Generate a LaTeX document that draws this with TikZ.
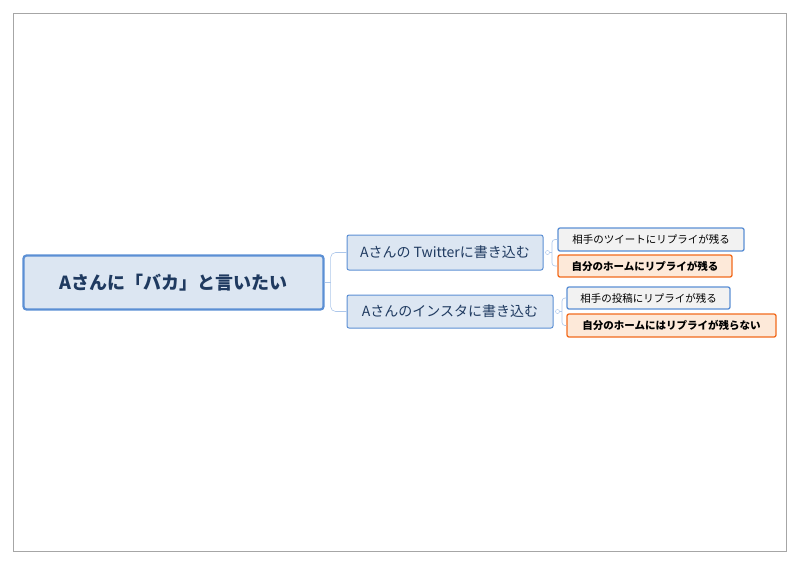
\documentclass[tikz,border=0pt]{standalone}
\usepackage{fontspec}
\newfontfamily\jp{Noto Sans CJK JP}
\begin{document}
\begin{tikzpicture}[x=1pt,y=-1pt,
  box/.style={draw=blue!60!cyan!70!black, rounded corners=2pt, inner sep=0pt, font=\jp},
  mid/.style={box, fill=bluebg, draw=bord, line width=1pt, text=midtxt, font=\jp\fontsize{14}{16}\selectfont},
  leafa/.style={box, fill=gray!10, draw=bord, line width=1.3pt, font=\jp\fontsize{10.5}{12}\selectfont},
  leafb/.style={box, fill=orbg, draw=orbord, line width=1.3pt, font=\jp\bfseries\fontsize{10.5}{12}\selectfont},
  conn/.style={draw=bord!50, line width=0.6pt}]
\definecolor{bluebg}{HTML}{DCE6F2}
\definecolor{bord}{HTML}{5B8FD4}
\definecolor{midtxt}{HTML}{1F3A60}
\definecolor{orbg}{HTML}{FDE9D9}
\definecolor{orbord}{HTML}{F26B1D}
\useasboundingbox (0,0) rectangle (800,566);
\draw[gray!70] (13,13) rectangle (786,551);
\node[box, fill=bluebg, draw=bord, line width=2.2pt, rounded corners=3pt, minimum width=300, minimum height=54, text=midtxt, font=\jp\bfseries\fontsize{18}{20}\selectfont] (root) at (173.5,282.5) {Aさんに「バカ」と言いたい};
\node[mid, minimum width=196, minimum height=35] (m1) at (445,252.5) {Aさんの Twitterに書き込む};
\node[mid, minimum width=206, minimum height=33] (m2) at (450,311.5) {Aさんのインスタに書き込む};
\node[leafa, minimum width=186, minimum height=23] (l1) at (651,239.5) {相手のツイートにリプライが残る};
\node[leafb, minimum width=174, minimum height=22] (l2) at (645,266) {自分のホームにリプライが残る};
\node[leafa, minimum width=163, minimum height=22] (l3) at (648.5,298) {相手の投稿にリプライが残る};
\node[leafb, minimum width=209, minimum height=23] (l4) at (671.5,325.5) {自分のホームにはリプライが残らない};
\coordinate (r0) at (root.east);
\draw[conn] (r0) -- ++(6,0) coordinate (rj);
\draw[conn, rounded corners=5pt] (rj) |- (m1.west);
\draw[conn, rounded corners=5pt] (rj) |- (m2.west);
\node[circle, draw=bord!50, line width=0.5pt, inner sep=0pt, minimum size=4pt] (c1) at (547.5,252.5) {};
\node[circle, draw=bord!50, line width=0.5pt, inner sep=0pt, minimum size=4pt] (c2) at (557.5,311.5) {};
\coordinate (j1) at (552,252.5);
\coordinate (j2) at (562,311.5);
\draw[conn] (c1) -- (j1);
\draw[conn, rounded corners=3pt] (j1) |- (l1.west);
\draw[conn, rounded corners=3pt] (j1) |- (l2.west);
\draw[conn] (c2) -- (j2);
\draw[conn, rounded corners=3pt] (j2) |- (l3.west);
\draw[conn, rounded corners=3pt] (j2) |- (l4.west);
\end{tikzpicture}
\end{document}
